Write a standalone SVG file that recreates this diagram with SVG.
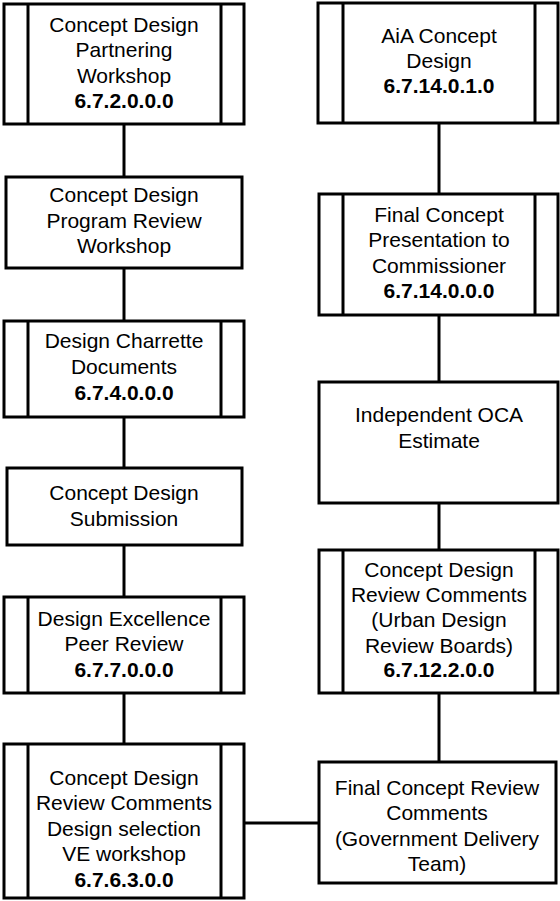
<svg xmlns="http://www.w3.org/2000/svg" width="560" height="901" viewBox="0 0 560 901">
<style>
.box{fill:#fff;stroke:#000;stroke-width:3}
.bar{stroke:#000;stroke-width:3}
.c{stroke:#000;stroke-width:3;fill:none}
text{font-family:"Liberation Sans",Arial,sans-serif;font-size:21px;fill:#000;text-anchor:middle}
.b{font-weight:bold}
</style>
<rect width="560" height="901" fill="#fff"/>
<g id="connectors">
<line class="c" x1="124" y1="124" x2="124" y2="177"/>
<line class="c" x1="124" y1="268" x2="124" y2="321"/>
<line class="c" x1="124" y1="417" x2="124" y2="468"/>
<line class="c" x1="124" y1="545" x2="124" y2="597"/>
<line class="c" x1="124" y1="693" x2="124" y2="744"/>
<line class="c" x1="439" y1="123" x2="439" y2="194"/>
<line class="c" x1="439" y1="315" x2="439" y2="382"/>
<line class="c" x1="439" y1="503" x2="439" y2="550"/>
<line class="c" x1="439" y1="693" x2="439" y2="762"/>
<line class="c" x1="244" y1="823" x2="319" y2="823"/>
</g>
<g id="n1">
<rect class="box" x="4" y="4" width="240" height="120"/>
<line class="bar" x1="28" y1="4" x2="28" y2="124"/>
<line class="bar" x1="221" y1="4" x2="221" y2="124"/>
<text x="124" y="32">Concept Design</text>
<text x="124" y="57">Partnering</text>
<text x="124" y="83">Workshop</text>
<text class="b" x="124" y="108">6.7.2.0.0.0</text>
</g>
<g id="n2">
<rect class="box" x="6" y="177" width="236" height="91"/>
<text x="124" y="202">Concept Design</text>
<text x="124" y="228">Program Review</text>
<text x="124" y="253">Workshop</text>
</g>
<g id="n3">
<rect class="box" x="4" y="321" width="240" height="96"/>
<line class="bar" x1="28" y1="321" x2="28" y2="417"/>
<line class="bar" x1="221" y1="321" x2="221" y2="417"/>
<text x="124" y="348">Design Charrette</text>
<text x="124" y="374">Documents</text>
<text class="b" x="124" y="400">6.7.4.0.0.0</text>
</g>
<g id="n4">
<rect class="box" x="7" y="468" width="235" height="77"/>
<text x="124" y="500">Concept Design</text>
<text x="124" y="526">Submission</text>
</g>
<g id="n5">
<rect class="box" x="4" y="597" width="240" height="96"/>
<line class="bar" x1="28" y1="597" x2="28" y2="693"/>
<line class="bar" x1="221" y1="597" x2="221" y2="693"/>
<text x="124" y="626">Design Excellence</text>
<text x="124" y="651">Peer Review</text>
<text class="b" x="124" y="677">6.7.7.0.0.0</text>
</g>
<g id="n6">
<rect class="box" x="4" y="744" width="240" height="154"/>
<line class="bar" x1="28" y1="744" x2="28" y2="898"/>
<line class="bar" x1="221" y1="744" x2="221" y2="898"/>
<text x="124" y="785">Concept Design</text>
<text x="124" y="810">Review Comments</text>
<text x="124" y="836">Design selection</text>
<text x="124" y="861">VE workshop</text>
<text class="b" x="124" y="887">6.7.6.3.0.0</text>
</g>
<g id="nA">
<rect class="box" x="318" y="3" width="240" height="120"/>
<line class="bar" x1="343" y1="3" x2="343" y2="123"/>
<line class="bar" x1="535" y1="3" x2="535" y2="123"/>
<text x="439" y="43">AiA Concept</text>
<text x="439" y="68">Design</text>
<text class="b" x="439" y="93">6.7.14.0.1.0</text>
</g>
<g id="nB">
<rect class="box" x="319" y="194" width="239" height="121"/>
<line class="bar" x1="343" y1="194" x2="343" y2="315"/>
<line class="bar" x1="535" y1="194" x2="535" y2="315"/>
<text x="439" y="222">Final Concept</text>
<text x="439" y="247">Presentation to</text>
<text x="439" y="273">Commissioner</text>
<text class="b" x="439" y="298">6.7.14.0.0.0</text>
</g>
<g id="nC">
<rect class="box" x="319" y="382" width="239" height="121"/>
<text x="439" y="422">Independent OCA</text>
<text x="439" y="448">Estimate</text>
</g>
<g id="nD">
<rect class="box" x="319" y="550" width="239" height="143"/>
<line class="bar" x1="343" y1="550" x2="343" y2="693"/>
<line class="bar" x1="535" y1="550" x2="535" y2="693"/>
<text x="439" y="577">Concept Design</text>
<text x="439" y="602">Review Comments</text>
<text x="439" y="627">(Urban Design</text>
<text x="439" y="653">Review Boards)</text>
<text class="b" x="439" y="677">6.7.12.2.0.0</text>
</g>
<g id="nE">
<rect class="box" x="319" y="762" width="237" height="121"/>
<text x="437" y="795">Final Concept Review</text>
<text x="437" y="820">Comments</text>
<text x="437" y="846">(Government Delivery</text>
<text x="437" y="871">Team)</text>
</g>
</svg>
